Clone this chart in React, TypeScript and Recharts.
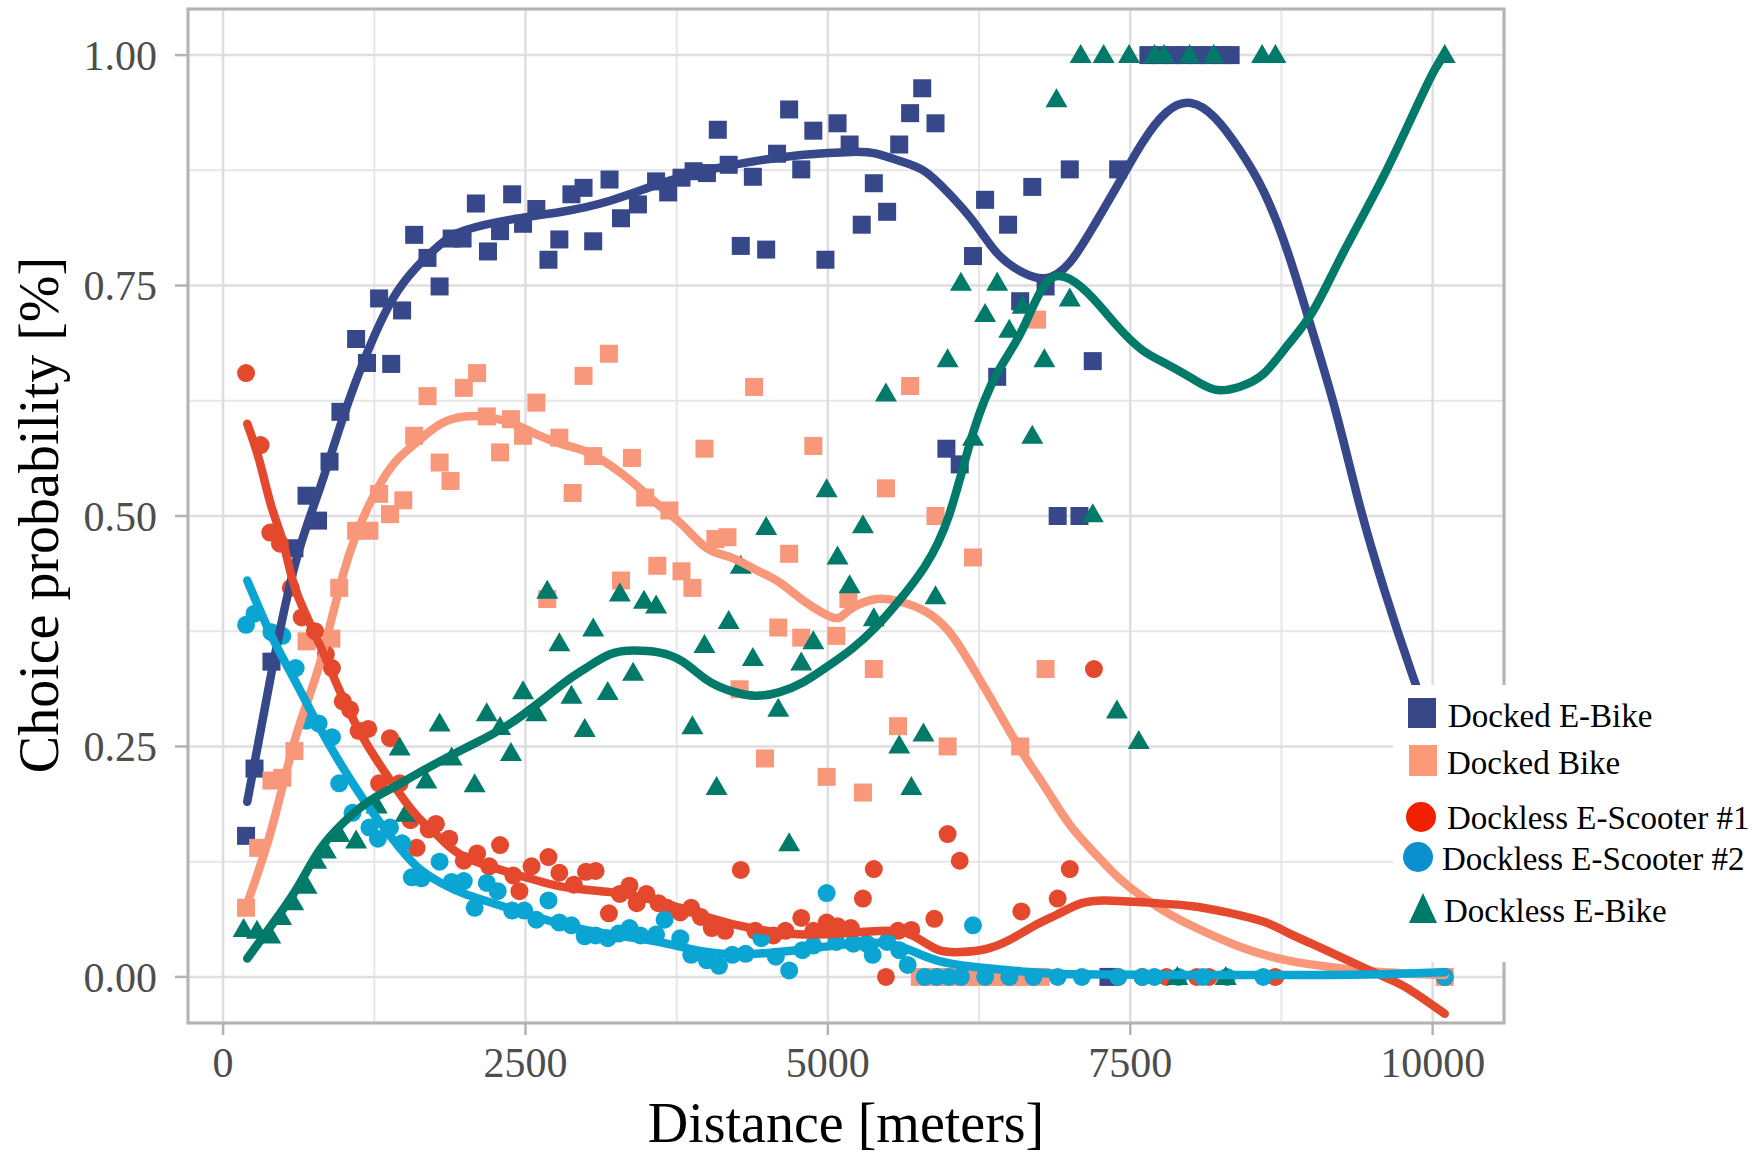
import React from "react";
import {
  ComposedChart,
  Scatter,
  Line,
  XAxis,
  YAxis,
  CartesianGrid,
  ReferenceArea,
} from "recharts";

const FONT = '"Liberation Serif", "Times New Roman", serif';

const xTicks = [0, 2500, 5000, 7500, 10000];
const yTicks = [0, 0.25, 0.5, 0.75, 1];
const xMinor = [1250, 3750, 6250, 8750];
const yMinor = [0.125, 0.375, 0.625, 0.875];

const colors = {
  dockedEBike: "#36478a",
  dockedBike: "#f9977a",
  scooter1: "#e4482d",
  scooter2: "#0aa5d3",
  docklessEBike: "#017a69",
};

const legendLabels = [
  "Docked E-Bike",
  "Docked Bike",
  "Dockless E-Scooter #1",
  "Dockless E-Scooter #2",
  "Dockless E-Bike",
];

// binned observations [distance, probability]
const dockedEBikePts: [number, number][] = [
  [190, 0.153], [260, 0.226], [400, 0.342], [590, 0.465], [690, 0.522], [785, 0.495],
  [880, 0.559], [970, 0.613], [1100, 0.692], [1190, 0.666], [1290, 0.736], [1390, 0.665],
  [1480, 0.723], [1580, 0.805], [1690, 0.78], [1790, 0.749], [1890, 0.801], [1980, 0.801],
  [2090, 0.839], [2190, 0.787], [2290, 0.809], [2390, 0.849], [2480, 0.817], [2590, 0.833],
  [2690, 0.778], [2780, 0.8], [2880, 0.849], [2980, 0.856], [3060, 0.798], [3195, 0.865],
  [3290, 0.823], [3430, 0.838], [3580, 0.863], [3680, 0.851], [3790, 0.867], [3890, 0.874],
  [4000, 0.872], [4090, 0.919], [4180, 0.881], [4280, 0.793], [4380, 0.868], [4490, 0.789],
  [4580, 0.893], [4680, 0.941], [4780, 0.876], [4880, 0.918], [4980, 0.778], [5080, 0.926],
  [5180, 0.903], [5280, 0.816], [5380, 0.861], [5490, 0.83], [5590, 0.903], [5680, 0.937],
  [5780, 0.964], [5890, 0.926], [5980, 0.573], [6090, 0.556], [6200, 0.782], [6300, 0.843],
  [6400, 0.651], [6490, 0.816], [6590, 0.733], [6690, 0.857], [6800, 0.749], [6900, 0.5],
  [7000, 0.876], [7080, 0.5], [7190, 0.668], [7320, 0], [7400, 0.876], [7650, 1],
  [7750, 1], [7850, 1], [7950, 1], [8050, 1], [8150, 1], [8250, 1], [8330, 1],
];

const dockedBikePts: [number, number][] = [
  [190, 0.075], [290, 0.14], [400, 0.213], [490, 0.216], [590, 0.245], [690, 0.364],
  [895, 0.367], [960, 0.422], [1100, 0.484], [1210, 0.484], [1290, 0.524], [1380, 0.502],
  [1490, 0.517], [1580, 0.587], [1690, 0.63], [1790, 0.558], [1880, 0.538], [1990, 0.639],
  [2100, 0.655], [2180, 0.608], [2290, 0.569], [2380, 0.605], [2480, 0.587], [2590, 0.623],
  [2680, 0.41], [2780, 0.585], [2890, 0.525], [2980, 0.652], [3060, 0.565], [3190, 0.676],
  [3290, 0.43], [3380, 0.563], [3490, 0.52], [3590, 0.446], [3690, 0.506], [3790, 0.44],
  [3880, 0.422], [3980, 0.573], [4070, 0.475], [4170, 0.477], [4270, 0.312], [4390, 0.64],
  [4480, 0.237], [4590, 0.379], [4680, 0.459], [4780, 0.368], [4880, 0.576], [4990, 0.217],
  [5070, 0.37], [5170, 0.41], [5290, 0.2], [5380, 0.334], [5480, 0.53], [5580, 0.272],
  [5680, 0.641], [5890, 0.5], [5990, 0.25], [6200, 0.455], [6590, 0.25], [6730, 0.713],
  [6800, 0.334], [5760, 0], [5860, 0], [5960, 0], [6060, 0], [6160, 0], [6260, 0],
  [6360, 0], [6460, 0], [6560, 0], [6660, 0], [6760, 0], [10100, 0],
];

const scooter1Pts: [number, number][] = [
  [190, 0.655], [310, 0.577], [390, 0.482], [470, 0.47], [560, 0.422], [650, 0.39],
  [760, 0.375], [850, 0.35], [900, 0.335], [990, 0.299], [1050, 0.29], [1120, 0.267],
  [1200, 0.269], [1290, 0.21], [1380, 0.259], [1460, 0.21], [1550, 0.17], [1600, 0.14],
  [1700, 0.16], [1760, 0.166], [1870, 0.15], [1990, 0.126], [2100, 0.134], [2200, 0.12],
  [2290, 0.143], [2400, 0.11], [2450, 0.093], [2550, 0.12], [2690, 0.13], [2780, 0.113],
  [2900, 0.1], [3000, 0.114], [3080, 0.115], [3190, 0.069], [3280, 0.09], [3360, 0.099],
  [3420, 0.08], [3500, 0.09], [3600, 0.08], [3670, 0.075], [3780, 0.07], [3870, 0.075],
  [3950, 0.065], [4040, 0.053], [4150, 0.05], [4280, 0.116], [4400, 0.05], [4550, 0.045],
  [4650, 0.05], [4780, 0.064], [4880, 0.05], [4990, 0.059], [5080, 0.055], [5190, 0.053],
  [5290, 0.085], [5380, 0.117], [5480, 0], [5580, 0.05], [5690, 0.051], [5880, 0.063],
  [5990, 0.155], [6090, 0.126], [6600, 0.071], [6900, 0.085], [7000, 0.117], [7200, 0.334],
  [7400, 0], [7600, 0], [7800, 0], [8050, 0], [8150, 0], [8700, 0], [10100, 0],
];

const scooter2Pts: [number, number][] = [
  [190, 0.382], [260, 0.394], [400, 0.374], [490, 0.37], [600, 0.335], [690, 0.278],
  [790, 0.275], [900, 0.26], [960, 0.21], [1070, 0.178], [1210, 0.162], [1280, 0.15],
  [1380, 0.162], [1480, 0.145], [1560, 0.108], [1640, 0.107], [1790, 0.125], [1890, 0.103],
  [1990, 0.104], [2080, 0.075], [2180, 0.102], [2270, 0.093], [2390, 0.072], [2490, 0.072],
  [2590, 0.062], [2690, 0.083], [2780, 0.059], [2880, 0.056], [2990, 0.044], [3080, 0.045],
  [3180, 0.042], [3270, 0.047], [3360, 0.053], [3450, 0.045], [3580, 0.046], [3650, 0.062],
  [3780, 0.042], [3870, 0.024], [4000, 0.018], [4100, 0.012], [4210, 0.024], [4320, 0.025],
  [4450, 0.042], [4570, 0.022], [4680, 0.007], [4790, 0.029], [4880, 0.034], [4990, 0.091],
  [5070, 0.038], [5210, 0.036], [5320, 0.036], [5370, 0.024], [5490, 0.038], [5590, 0.029],
  [5660, 0.013], [5800, 0], [5900, 0], [6000, 0], [6100, 0], [6200, 0.056], [6300, 0],
  [6500, 0], [6700, 0], [6900, 0], [7100, 0], [7400, 0], [7600, 0], [7700, 0], [7900, 0],
  [8100, 0], [8300, 0], [8600, 0], [10100, 0],
];

const docklessEBikePts: [number, number][] = [
  [170, 0.052], [280, 0.05], [390, 0.045], [480, 0.065], [580, 0.081], [690, 0.099],
  [770, 0.126], [850, 0.137], [960, 0.155], [1100, 0.148], [1270, 0.186], [1460, 0.249],
  [1510, 0.177], [1680, 0.213], [1790, 0.275], [1890, 0.238], [2080, 0.209], [2180, 0.286],
  [2290, 0.271], [2380, 0.243], [2480, 0.31], [2590, 0.286], [2680, 0.419], [2780, 0.362],
  [2880, 0.305], [2990, 0.269], [3060, 0.378], [3180, 0.309], [3280, 0.416], [3390, 0.33],
  [3480, 0.408], [3580, 0.403], [3880, 0.272], [3980, 0.36], [4080, 0.206], [4180, 0.386],
  [4280, 0.446], [4380, 0.346], [4490, 0.488], [4590, 0.291], [4680, 0.145], [4780, 0.341],
  [4880, 0.364], [4990, 0.529], [5080, 0.456], [5180, 0.425], [5290, 0.49], [5380, 0.389],
  [5480, 0.633], [5590, 0.251], [5690, 0.206], [5790, 0.264], [5890, 0.413], [5990, 0.67],
  [6100, 0.753], [6200, 0.585], [6300, 0.719], [6400, 0.753], [6500, 0.702], [6610, 0.728],
  [6690, 0.587], [6790, 0.67], [6890, 0.952], [7000, 0.736], [7090, 1], [7190, 0.502],
  [7280, 1], [7390, 0.289], [7490, 1], [7570, 0.256], [7700, 1], [7780, 1], [7890, 0],
  [7990, 1], [8190, 1], [8290, 0], [8590, 1], [8700, 1], [10100, 1],
];

// smoothed fits
const dockedEBikeFit: [number, number][] = [
  [200, 0.19], [400, 0.33], [600, 0.45], [800, 0.53], [1000, 0.61], [1200, 0.68],
  [1400, 0.735], [1600, 0.77], [1800, 0.795], [2000, 0.81], [2400, 0.822], [2800, 0.83],
  [3200, 0.842], [3600, 0.86], [4000, 0.875], [4400, 0.885], [4800, 0.892], [5200, 0.895],
  [5400, 0.893], [5600, 0.885], [5800, 0.874], [6000, 0.85], [6200, 0.82], [6400, 0.785],
  [6600, 0.765], [6800, 0.758], [7000, 0.775], [7200, 0.815], [7400, 0.86], [7600, 0.905],
  [7800, 0.938], [8000, 0.948], [8200, 0.932], [8400, 0.898], [8600, 0.853], [8800, 0.787],
  [9000, 0.703], [9200, 0.613], [9400, 0.51], [9600, 0.42], [9800, 0.34], [10000, 0.265],
  [10100, 0.225],
];

const dockedBikeFit: [number, number][] = [
  [200, 0.08], [400, 0.16], [600, 0.26], [800, 0.34], [1000, 0.44], [1200, 0.51],
  [1400, 0.555], [1600, 0.58], [1800, 0.6], [2000, 0.608], [2200, 0.607], [2400, 0.6],
  [2600, 0.588], [2800, 0.578], [3000, 0.57], [3200, 0.555], [3400, 0.535], [3600, 0.512],
  [3800, 0.49], [4000, 0.465], [4200, 0.455], [4400, 0.442], [4600, 0.428], [4800, 0.408],
  [5000, 0.392], [5100, 0.39], [5200, 0.4], [5400, 0.41], [5600, 0.407], [5800, 0.397],
  [6000, 0.375], [6200, 0.335], [6400, 0.29], [6600, 0.245], [6800, 0.205], [7000, 0.165],
  [7200, 0.135], [7400, 0.108], [7600, 0.087], [7800, 0.07], [8000, 0.056], [8400, 0.033],
  [8800, 0.018], [9200, 0.01], [9600, 0.005], [10100, 0.002],
];

const scooter1Fit: [number, number][] = [
  [200, 0.6], [300, 0.56], [400, 0.51], [500, 0.47], [600, 0.42], [800, 0.36],
  [1000, 0.3], [1200, 0.25], [1400, 0.21], [1600, 0.175], [1800, 0.15], [2000, 0.13],
  [2400, 0.112], [2800, 0.098], [3200, 0.092], [3600, 0.082], [4000, 0.065], [4400, 0.052],
  [4800, 0.046], [5200, 0.048], [5500, 0.05], [5700, 0.045], [5900, 0.03], [6100, 0.027],
  [6300, 0.03], [6500, 0.04], [6700, 0.055], [6900, 0.068], [7100, 0.08], [7300, 0.083],
  [7600, 0.081], [8000, 0.077], [8300, 0.07], [8600, 0.06], [8800, 0.048], [9000, 0.036],
  [9300, 0.018], [9600, 0], [9800, -0.013], [10100, -0.04],
];

const scooter2Fit: [number, number][] = [
  [200, 0.43], [400, 0.37], [600, 0.32], [800, 0.27], [1000, 0.225], [1200, 0.185],
  [1400, 0.15], [1600, 0.12], [1800, 0.102], [2000, 0.09], [2400, 0.073], [2800, 0.057],
  [3200, 0.046], [3600, 0.038], [4000, 0.027], [4400, 0.025], [4800, 0.03], [5200, 0.036],
  [5500, 0.036], [5700, 0.028], [5900, 0.018], [6200, 0.011], [6600, 0.006], [7000, 0.003],
  [8000, 0.002], [9000, 0.002], [9600, 0.003], [10100, 0.005],
];

const docklessEBikeFit: [number, number][] = [
  [200, 0.02], [400, 0.056], [600, 0.094], [800, 0.138], [1000, 0.168], [1200, 0.19],
  [1400, 0.205], [1600, 0.22], [2000, 0.248], [2400, 0.277], [2800, 0.317], [3000, 0.335],
  [3200, 0.35], [3400, 0.354], [3600, 0.352], [3800, 0.342], [4000, 0.322], [4200, 0.31],
  [4400, 0.305], [4600, 0.309], [4800, 0.32], [5000, 0.337], [5200, 0.356], [5400, 0.38],
  [5600, 0.41], [5800, 0.445], [6000, 0.5], [6200, 0.59], [6400, 0.655], [6600, 0.7],
  [6800, 0.752], [7000, 0.757], [7200, 0.735], [7400, 0.705], [7600, 0.68], [7800, 0.665],
  [8000, 0.65], [8200, 0.637], [8400, 0.64], [8600, 0.654], [8800, 0.685], [9000, 0.72],
  [9200, 0.77], [9400, 0.82], [9600, 0.87], [9800, 0.925], [10000, 0.98], [10100, 1],
];

const toRows = (arr: [number, number][]) => arr.map(([x, y]) => ({ x, y }));

const squareShape = (color: string) => (p: any) => (
  <rect x={p.cx - 9} y={p.cy - 9} width={18} height={18} fill={color} />
);
const circleShape = (color: string) => (p: any) => (
  <circle cx={p.cx} cy={p.cy} r={9} fill={color} />
);
const triangleShape = (color: string) => (p: any) => (
  <polygon
    points={`${p.cx - 11},${p.cy + 8} ${p.cx + 11},${p.cy + 8} ${p.cx},${p.cy - 11}`}
    fill={color}
  />
);

function LegendBox() {
  const textStyle = { fontFamily: FONT, fontSize: 33, fill: "#000" };
  return (
    <svg
      width={359}
      height={277}
      style={{ position: "absolute", left: 1393, top: 685 }}
    >
      <rect x={0} y={0} width={359} height={277} fill="#fff" />
      <rect x={15} y={13} width={28} height={30} fill="#374686" />
      <text x={55} y={42} {...textStyle}>{legendLabels[0]}</text>
      <rect x={16} y={60} width={28} height={31} fill="#fc9a78" />
      <text x={54} y={89} {...textStyle}>{legendLabels[1]}</text>
      <circle cx={28} cy={132} r={15} fill="#f02000" />
      <text x={54} y={144} {...textStyle}>{legendLabels[2]}</text>
      <circle cx={25} cy={172} r={15} fill="#0a8fd0" />
      <text x={49} y={185} {...textStyle}>{legendLabels[3]}</text>
      <polygon points="16,238 44,238 30,208" fill="#007a68" />
      <text x={51} y={237} {...textStyle}>{legendLabels[4]}</text>
    </svg>
  );
}

const fitLines: { data: [number, number][]; color: string }[] = [
  { data: dockedEBikeFit, color: colors.dockedEBike },
  { data: dockedBikeFit, color: colors.dockedBike },
  { data: scooter1Fit, color: colors.scooter1 },
  { data: scooter2Fit, color: colors.scooter2 },
  { data: docklessEBikeFit, color: colors.docklessEBike },
];

export default function App() {
  const tickStyle = { fill: "#4d4d4d", fontSize: 42, fontFamily: FONT };
  const tickLine = { stroke: "#b3b3b3", strokeWidth: 2.5 };

  return (
    <div
      style={{
        position: "absolute",
        left: 0,
        top: 0,
        width: 1752,
        height: 1155,
        background: "#fff",
        fontFamily: FONT,
      }}
    >
      <ComposedChart
        width={1752}
        height={1155}
        margin={{ top: 9, right: 248, bottom: 0, left: 0 }}
      >
        <CartesianGrid
          stroke="#e6e6e6"
          strokeWidth={2}
          verticalValues={xMinor}
          horizontalValues={yMinor}
        />
        <CartesianGrid stroke="#dedede" strokeWidth={2.5} />
        <XAxis
          type="number"
          dataKey="x"
          domain={[-290, 10590]}
          ticks={xTicks}
          allowDataOverflow
          height={132}
          axisLine={false}
          tickLine={tickLine}
          tickSize={12}
          tickMargin={12}
          tick={tickStyle}
          label={{
            content: () => (
              <text
                x={846}
                y={1142}
                textAnchor="middle"
                style={{ fontFamily: FONT, fontSize: 56, fill: "#000" }}
              >
                Distance [meters]
              </text>
            ),
          }}
        />
        <YAxis
          type="number"
          dataKey="y"
          domain={[-0.05, 1.05]}
          ticks={yTicks}
          allowDataOverflow
          width={188}
          axisLine={false}
          tickLine={tickLine}
          tickSize={13}
          tickMargin={18}
          tick={tickStyle}
          tickFormatter={(v: number) => v.toFixed(2)}
          label={{
            content: () => (
              <text
                x={58}
                y={515}
                transform="rotate(-90 58 515)"
                textAnchor="middle"
                style={{ fontFamily: FONT, fontSize: 56, fill: "#000" }}
              >
                Choice probability [%]
              </text>
            ),
          }}
        />
        <Scatter data={toRows(dockedEBikePts)} fill={colors.dockedEBike} shape={squareShape(colors.dockedEBike)} isAnimationActive={false} />
        <Scatter data={toRows(dockedBikePts)} fill={colors.dockedBike} shape={squareShape(colors.dockedBike)} isAnimationActive={false} />
        <Scatter data={toRows(scooter1Pts)} fill={colors.scooter1} shape={circleShape(colors.scooter1)} isAnimationActive={false} />
        <Scatter data={toRows(scooter2Pts)} fill={colors.scooter2} shape={circleShape(colors.scooter2)} isAnimationActive={false} />
        <Scatter data={toRows(docklessEBikePts)} fill={colors.docklessEBike} shape={triangleShape(colors.docklessEBike)} isAnimationActive={false} />
        {fitLines.map((l, i) => (
          <Line
            key={i}
            data={toRows(l.data)}
            dataKey="y"
            type="natural"
            stroke={l.color}
            strokeWidth={8.5}
            strokeLinecap="round"
            dot={false}
            activeDot={false}
            isAnimationActive={false}
            zIndex={700}
          />
        ))}
        <ReferenceArea
          x1={-290}
          x2={10590}
          y1={-0.05}
          y2={1.05}
          fill="none"
          fillOpacity={0}
          stroke="#b3b3b3"
          strokeWidth={3}
          ifOverflow="visible"
          zIndex={800}
        />
      </ComposedChart>
      <LegendBox />
    </div>
  );
}
